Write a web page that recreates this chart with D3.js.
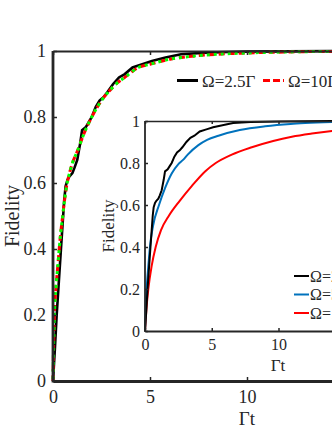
<!DOCTYPE html>
<html>
<head>
<meta charset="utf-8">
<script src="https://cdn.jsdelivr.net/npm/d3@7"></script>
<style>
body { margin: 0; background: #fff; }
svg text { font-family: "Liberation Serif", "DejaVu Serif", serif; fill: #262626; }
</style>
</head>
<body>
<svg width="332" height="430"></svg>
<script>
// jagged trajectory average (black), same curve in both panels
var tJump = [0, 0.1, 0.19, 0.3, 0.41, 0.5, 0.58, 0.65, 0.75, 0.85, 1.0, 1.1, 1.25, 1.4, 1.5, 1.7, 1.85, 2.0, 2.2, 2.4, 2.6, 2.8, 3.1, 3.4, 3.7, 4.1, 4.6, 5.1, 5.8, 6.6, 7.9, 9, 10, 12, 15, 20];
var fJump = [0, 0.1, 0.2, 0.3, 0.4, 0.48, 0.55, 0.59, 0.61, 0.62, 0.63, 0.645, 0.67, 0.72, 0.76, 0.77, 0.785, 0.8, 0.83, 0.85, 0.86, 0.875, 0.9, 0.92, 0.93, 0.95, 0.96, 0.97, 0.98, 0.99, 0.995, 0.997, 0.998, 0.999, 1, 1];
// smooth curves of the main panel (red dashed, green dotted)
var tMean = [0, 0.03, 0.07, 0.15, 0.25, 0.32, 0.4, 0.5, 0.6, 0.7, 0.85, 1.0, 1.28, 1.6, 2.0, 2.5, 3.0, 3.25, 3.7, 4.4, 5, 6.1, 7, 8.7, 10, 11.2, 13, 15, 20];
var fMean = [0, 0.1, 0.2, 0.28, 0.35, 0.4, 0.45, 0.5, 0.55, 0.59, 0.63, 0.66, 0.7, 0.75, 0.8, 0.85, 0.885, 0.9, 0.92, 0.95, 0.96, 0.976, 0.983, 0.991, 0.994, 0.996, 0.998, 0.999, 1];
// inset curves
var tBlue = [0, 0.05, 0.12, 0.25, 0.37, 0.6, 1.05, 1.5, 2.0, 2.5, 2.85, 3.2, 4, 4.65, 5.5, 7.1, 9, 10.9, 12, 14, 17, 20];
var fBlue = [0, 0.12, 0.2, 0.31, 0.4, 0.5, 0.6, 0.68, 0.75, 0.795, 0.815, 0.84, 0.885, 0.91, 0.93, 0.957, 0.975, 0.986, 0.99, 0.995, 0.999, 1];
var tRed = [0, 0.1, 0.25, 0.5, 0.8, 1.2, 1.8, 2.6, 3.5, 4.5, 5.3, 6.5, 8, 9.6, 11, 12.5, 14, 17, 20];
var fRed = [0, 0.1, 0.2, 0.31, 0.4, 0.48, 0.55, 0.62, 0.69, 0.76, 0.8, 0.84, 0.875, 0.905, 0.925, 0.94, 0.952, 0.967, 0.977];

var xTicks = [0, 5, 10, 15, 20];
var yTicks = [0, 0.2, 0.4, 0.6, 0.8, 1];
var mainLegend = ["Ω=2.5Γ", "Ω=10Γ"];
var insetLegend = ["Ω=2.5Γ", "Ω=5Γ", "Ω=10Γ"];

var W = 332;
var svg = d3.select("svg");
var pts = function(ts, fs) { return ts.map(function(t, i) { return [t, fs[i]]; }); };

function drawAxes(g, x, y, o) {
    var x0 = x.range()[0], y0 = y.range()[0], y1 = y.range()[1];
    var fmt = d3.format("");
    var bx = g.append("g").attr("transform", "translate(0," + y0 + ")")
        .call(d3.axisBottom(x).tickValues(xTicks).tickSize(-o.tick).tickSizeOuter(0).tickPadding(o.xpad).tickFormat(fmt));
    var tx = g.append("g").attr("transform", "translate(0," + y1 + ")")
        .call(d3.axisTop(x).tickValues(xTicks).tickSize(-o.tick).tickSizeOuter(0).tickFormat(""));
    var ly = g.append("g").attr("transform", "translate(" + x0 + ",0)")
        .call(d3.axisLeft(y).tickValues(yTicks).tickSize(-o.tick).tickSizeOuter(0).tickPadding(o.ypad).tickFormat(fmt));
    [bx, tx, ly].forEach(function(a) {
        a.attr("font-family", null).attr("font-size", o.font);
        a.selectAll("line").attr("stroke", "#262626").attr("stroke-width", 1.5);
        a.select(".domain").attr("stroke", "#262626");
    });
    // labels past the page edge are not visible in the figure
    bx.selectAll(".tick text").filter(function(d) { return x(d) > W - 8; }).remove();
    bx.select(".domain").attr("stroke-width", o.wBottom);
    ly.select(".domain").attr("stroke-width", o.wLeft);
    tx.select(".domain").attr("stroke-width", o.wTop);
    ly.select(".domain").attr("d", "M0," + (y0 + o.wBottom / 2) + "V" + y1);
}

// ---- main panel
var x = d3.scaleLinear().domain([0, 20]).range([53, 441]);
var y = d3.scaleLinear().domain([0, 1]).range([381, 51]);
var main = svg.append("g");

var line = d3.line().x(function(d) { return x(d[0]); }).y(function(d) { return y(d[1]); });
var smooth = d3.line().curve(d3.curveMonotoneX).x(function(d) { return x(d[0]); }).y(function(d) { return y(d[1]); });

main.append("path").datum(pts(tJump, fJump)).attr("fill", "none")
    .attr("stroke", "#000").attr("stroke-width", 2.6).attr("d", line);
main.append("path").datum(pts(tMean, fMean)).attr("fill", "none")
    .attr("stroke", "#ff0000").attr("stroke-width", 3).attr("stroke-dasharray", "6,4").attr("d", smooth);
main.append("path").datum(pts(tMean, fMean)).attr("fill", "none")
    .attr("stroke", "#00ff00").attr("stroke-width", 3).attr("stroke-dasharray", "3,4").attr("stroke-dashoffset", 5).attr("d", smooth);

drawAxes(main, x, y, {tick: 4, xpad: 9, ypad: 7, font: 18, wBottom: 2.8, wLeft: 2.8, wTop: 2});

main.append("text").attr("x", 247).attr("y", 425).attr("text-anchor", "middle")
    .attr("font-size", 19).text("Γt");
main.append("text").attr("transform", "translate(19,216) rotate(-90)").attr("text-anchor", "middle")
    .attr("font-size", 20).text("Fidelity");

// main legend
var legStyles = [{c: "#000", dash: null}, {c: "#ff0000", dash: "7,3"}];
var legX = [177, 263];
mainLegend.forEach(function(s, i) {
    main.append("line").attr("x1", legX[i]).attr("x2", legX[i] + 21).attr("y1", 80.5).attr("y2", 80.5)
        .attr("stroke", legStyles[i].c).attr("stroke-width", 3).attr("stroke-dasharray", legStyles[i].dash);
    main.append("text").attr("x", legX[i] + 25).attr("y", 86.5).attr("font-size", 17).text(s);
});

// ---- inset panel
var xi = d3.scaleLinear().domain([0, 20]).range([145, 412]);
var yi = d3.scaleLinear().domain([0, 1]).range([331, 121]);
var inset = svg.append("g");
inset.append("rect").attr("x", 145).attr("y", 121).attr("width", 267).attr("height", 210).attr("fill", "#fff");

var lineI = d3.line().x(function(d) { return xi(d[0]); }).y(function(d) { return yi(d[1]); });
var smoothI = d3.line().curve(d3.curveMonotoneX).x(function(d) { return xi(d[0]); }).y(function(d) { return yi(d[1]); });

inset.append("path").datum(pts(tRed, fRed)).attr("fill", "none")
    .attr("stroke", "#ff0000").attr("stroke-width", 2).attr("d", smoothI);
inset.append("path").datum(pts(tBlue, fBlue)).attr("fill", "none")
    .attr("stroke", "#0072bd").attr("stroke-width", 2).attr("d", smoothI);
inset.append("path").datum(pts(tJump, fJump)).attr("fill", "none")
    .attr("stroke", "#000").attr("stroke-width", 2).attr("d", lineI);

drawAxes(inset, xi, yi, {tick: 3, xpad: 8, ypad: 5, font: 16, wBottom: 2, wLeft: 1.8, wTop: 1.5});

inset.append("text").attr("x", 278).attr("y", 371).attr("text-anchor", "middle")
    .attr("font-size", 17).text("Γt");
inset.append("text").attr("transform", "translate(114,226) rotate(-90)").attr("text-anchor", "middle")
    .attr("font-size", 17).text("Fidelity");

var insetColors = ["#000", "#0072bd", "#ff0000"];
var insetLegY = [276, 294.5, 313];
insetLegend.forEach(function(s, i) {
    inset.append("line").attr("x1", 294).attr("x2", 309).attr("y1", insetLegY[i]).attr("y2", insetLegY[i])
        .attr("stroke", insetColors[i]).attr("stroke-width", 2);
    inset.append("text").attr("x", 310).attr("y", insetLegY[i] + 5.5).attr("font-size", 16).text(s);
});
</script>
</body>
</html>
